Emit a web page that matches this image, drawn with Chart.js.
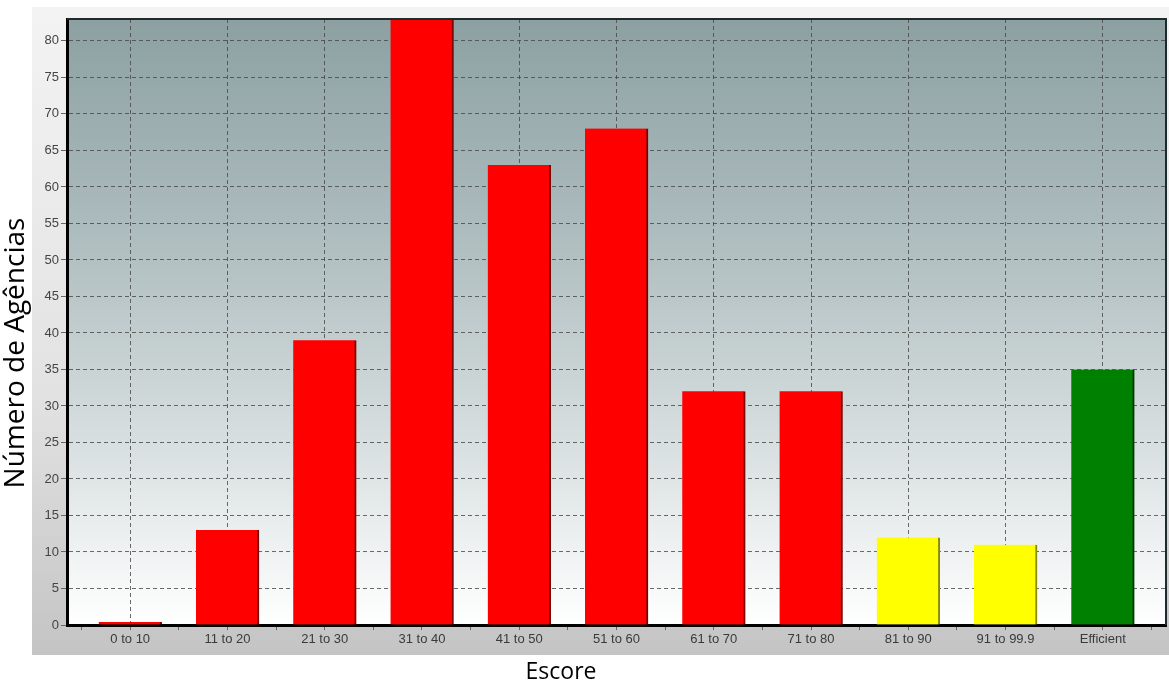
<!DOCTYPE html>
<html>
<head>
<meta charset="utf-8">
<script src="https://cdn.jsdelivr.net/npm/chart.js@4"></script>
<style>
  html, body { margin: 0; padding: 0; background: #fff; }
  #wrap { width: 1169px; height: 682px; }
</style>
</head>
<body>
<div id="wrap"><canvas id="chartEscore" width="1169" height="682"></canvas></div>
<script>
// faixas de escore e numero de agencias
const categorias = ['0 to 10', '11 to 20', '21 to 30', '31 to 40', '41 to 50', '51 to 60',
                    '61 to 70', '71 to 80', '81 to 90', '91 to 99.9', 'Efficient'];
const agencias = [0.4, 13, 39, 83, 63, 68, 32, 32, 12, 11, 35];
const coresBarra = ['#ff0000', '#ff0000', '#ff0000', '#ff0000', '#ff0000', '#ff0000',
                    '#ff0000', '#ff0000', '#ffff00', '#ffff00', '#008000'];
const coresBorda = ['#8b0000', '#7a0000', '#7a0000', '#7a0000', '#7a0000', '#7a0000',
                    '#7a0000', '#7a0000', '#8a8a00', '#8a8a00', '#003300'];
const yTicks = [0, 5, 10, 15, 20, 25, 30, 35, 40, 45, 50, 55, 60, 65, 70, 75, 80];

const tituloY = 'Número de Agências';
const tituloX = 'Escore';

// fundo do painel, fundo da area do grafico, moldura e titulos
const fundoPlugin = {
    id: 'fundo',
    beforeDraw(chart) {
        const { ctx, chartArea: a } = chart;
        ctx.save();
        let g = ctx.createLinearGradient(0, 7, 0, 655);
        g.addColorStop(0, '#f3f3f3');
        g.addColorStop(0.6, '#e2e2e2');
        g.addColorStop(1, '#c4c4c4');
        ctx.fillStyle = g;
        ctx.fillRect(32, 7, 1169 - 32, 655 - 7);

        g = ctx.createLinearGradient(0, a.top, 0, a.bottom);
        g.addColorStop(0, '#8ca0a2');
        g.addColorStop(0.35, '#adbcbe');
        g.addColorStop(0.7, '#d8dfe0');
        g.addColorStop(1, '#ffffff');
        ctx.fillStyle = g;
        ctx.fillRect(a.left, a.top, a.right - a.left, a.bottom - a.top);
        ctx.restore();
    },
    afterDraw(chart) {
        const { ctx, chartArea: a } = chart;
        ctx.save();
        ctx.strokeStyle = '#1e2a2c';
        ctx.lineWidth = 2;
        ctx.beginPath();
        ctx.moveTo(a.left, a.top);
        ctx.lineTo(a.right, a.top);
        ctx.lineTo(a.right, a.bottom);
        ctx.stroke();

        ctx.fillStyle = '#000';
        ctx.textAlign = 'center';
        ctx.textBaseline = 'middle';
        ctx.font = '23px "Open Sans"';
        ctx.fillText(tituloX, 561, 672);
        ctx.font = '28px "Open Sans"';
        ctx.translate(16, 353);
        ctx.rotate(-Math.PI / 2);
        ctx.fillText(tituloY, 0, 0);
        ctx.restore();
    }
};

new Chart(document.getElementById('chartEscore'), {
    type: 'bar',
    data: {
        datasets: [{
            data: agencias.map((v, i) => ({ x: i, y: v })),
            backgroundColor: coresBarra,
            borderColor: coresBorda,
            borderWidth: { top: 0, left: 0, bottom: 0, right: 2 },
            borderSkipped: false,
            barThickness: 63
        }]
    },
    options: {
        responsive: false,
        animation: false,
        events: [],
        layout: { padding: { left: 32, top: 19, right: 3, bottom: 27 } },
        plugins: { legend: { display: false }, tooltip: { enabled: false } },
        scales: {
            x: {
                type: 'linear',
                min: -0.65,
                max: 10.65,
                offset: false,
                afterBuildTicks: s => {
                    s.ticks = [];
                    for (let v = -0.5; v <= 10.5; v += 0.5) s.ticks.push({ value: v });
                },
                afterFit: s => { s.height = 30; },
                ticks: {
                    autoSkip: false,
                    maxRotation: 0,
                    padding: 2,
                    color: '#3a3a3a',
                    font: { family: '"Liberation Sans", Arial', size: 13 },
                    callback: v => Number.isInteger(v) ? categorias[v] : ''
                },
                grid: {
                    offset: false,
                    color: c => (c.tick && Number.isInteger(c.tick.value)) ? 'rgba(70,70,70,0.8)' : 'rgba(0,0,0,0)',
                    tickColor: '#666',
                    tickLength: 5,
                    lineWidth: 1
                },
                border: { color: '#000', width: 3, dash: [4, 3] }
            },
            y: {
                min: 0,
                max: 83,
                afterBuildTicks: s => { s.ticks = yTicks.map(v => ({ value: v })); },
                afterFit: s => { s.width = 35; },
                ticks: {
                    padding: 2,
                    color: '#444',
                    font: { family: '"Liberation Sans", Arial', size: 13 },
                    includeBounds: false
                },
                grid: {
                    color: 'rgba(70,70,70,0.8)',
                    tickColor: '#666',
                    tickLength: 6,
                    lineWidth: 1
                },
                border: { color: '#000', width: 3, dash: [4, 3] }
            }
        }
    },
    plugins: [fundoPlugin]
});
</script>
</body>
</html>
